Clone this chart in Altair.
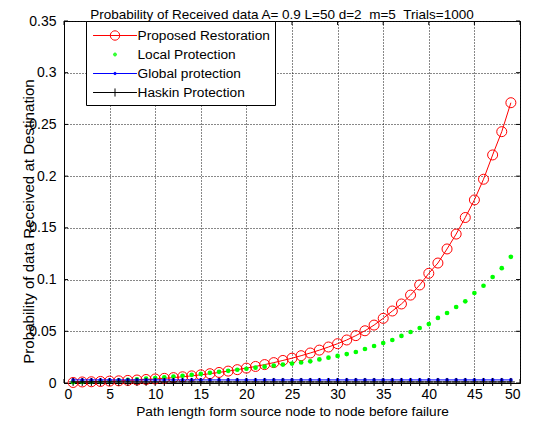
import math
import altair as alt
import pandas as pd

# ---------------- data ----------------
x_vals = list(range(1, 50))

proposed = [0.0005, 0.0010, 0.0012, 0.0015, 0.0018, 0.0021, 0.0025, 0.0029, 0.0034, 0.0039,
            0.0045, 0.0052, 0.0060, 0.0069, 0.0079, 0.0090, 0.0102, 0.0115, 0.0129, 0.0144,
            0.0160, 0.0178, 0.0197, 0.0218, 0.0240, 0.0264, 0.0290, 0.0318, 0.0348, 0.0380,
            0.0416, 0.0458, 0.0505, 0.0560, 0.0625, 0.0696, 0.0764, 0.0850, 0.0948, 0.1060,
            0.1160, 0.1296, 0.1440, 0.1600, 0.1770, 0.1970, 0.2205, 0.2430, 0.2710]

local = [0.0008, 0.0012, 0.0015, 0.0018, 0.0022, 0.0026, 0.0031, 0.0036, 0.0042, 0.0048,
         0.0055, 0.0062, 0.0070, 0.0079, 0.0088, 0.0098, 0.0108, 0.0118, 0.0128, 0.0138,
         0.0148, 0.0158, 0.0168, 0.0178, 0.0188, 0.0198, 0.0210, 0.0228, 0.0245, 0.0262,
         0.0280, 0.0300, 0.0329, 0.0358, 0.0387, 0.0416, 0.0455, 0.0493, 0.0532, 0.0570,
         0.0629, 0.0677, 0.0735, 0.0790, 0.0870, 0.0940, 0.1025, 0.1110, 0.1220]

global_p = [0.0030, 0.0030, 0.0030, 0.0030, 0.0030, 0.0030, 0.0030, 0.0030, 0.0030, 0.0030,
            0.0030, 0.0030, 0.0030, 0.0030, 0.0030, 0.0030, 0.0030, 0.0030, 0.0030, 0.0030,
            0.0030, 0.0030, 0.0030, 0.0030, 0.0030, 0.0030, 0.0030, 0.0030, 0.0030, 0.0030,
            0.0030, 0.0030, 0.0030, 0.0030, 0.0030, 0.0030, 0.0030, 0.0030, 0.0030, 0.0030,
            0.0030, 0.0030, 0.0030, 0.0030, 0.0030, 0.0030, 0.0030, 0.0030, 0.0030]

haskin = [0.0010, 0.0010, 0.0010, 0.0010, 0.0010, 0.0010, 0.0010, 0.0010, 0.0010, 0.0010,
          0.0010, 0.0010, 0.0010, 0.0010, 0.0010, 0.0010, 0.0010, 0.0010, 0.0010, 0.0010,
          0.0010, 0.0010, 0.0010, 0.0010, 0.0010, 0.0010, 0.0010, 0.0010, 0.0010, 0.0010,
          0.0010, 0.0010, 0.0010, 0.0010, 0.0010, 0.0010, 0.0010, 0.0010, 0.0010, 0.0010,
          0.0010, 0.0010, 0.0010, 0.0010, 0.0010, 0.0010, 0.0010, 0.0010, 0.0010]

series_names = ["Proposed Restoration", "Local Protection", "Global protection", "Haskin Protection"]
series_colors = ["#ff0000", "#00ff00", "#0000ff", "#000000"]

x_ticks = [0, 5, 10, 15, 20, 25, 30, 35, 40, 45, 50]
y_ticks = [0, 0.05, 0.1, 0.15, 0.2, 0.25, 0.3, 0.35]

# double spaces kept with no-break spaces so SVG does not collapse them
title_text = "Probability of Received data A= 0.9 L=50 d=2 \u00a0m=5 \u00a0Trials=1000"
x_title = "Path length form source node to node before failure"
y_title = "Probability of data Received at Destination"

# ---------------- build tables ----------------
rows = []
for name, vals in zip(series_names, [proposed, local, global_p, haskin]):
    for xv, yv in zip(x_vals, vals):
        rows.append({"x": xv, "y": yv, "series": name})
df = pd.DataFrame(rows)
xt_df = pd.DataFrame({"v": x_ticks})
yt_df = pd.DataFrame({"v": y_ticks})

W, H = 456, 362
FONT = "Liberation Sans"


def ring(r, n=20):
    pts = [(r * math.cos(2 * math.pi * i / n), r * math.sin(2 * math.pi * i / n)) for i in range(n)]
    s = "M%.3f,%.3f" % pts[0]
    for p in pts[1:]:
        s += "L%.3f,%.3f" % p
    return s + "Z"


L = 2.44  # half-length of legend line (symbol units)
legend_paths = [
    "M%.2f,0L%.2f,0" % (-L, L) + ring(0.52),
    ring(0.17, 8) + ring(0.07, 6),
    "M%.2f,0L%.2f,0" % (-L, L) + ring(0.14, 8) + ring(0.05, 6),
    "M%.2f,0L%.2f,0M0,-0.45L0,0.45" % (-L, L),
]
plus_path = "M-1,0L1,0M0,-1L0,1"

X = alt.X("x:Q", scale=alt.Scale(domain=[0, 50], nice=False, zero=False),
          axis=alt.Axis(values=x_ticks, title=x_title, ticks=False, tickSize=0,
                        labelPadding=4, titlePadding=3, grid=True,
                        titleFontWeight="normal", titleFontSize=13.7))
Y = alt.Y("y:Q", scale=alt.Scale(domain=[0, 0.35], nice=False),
          axis=alt.Axis(values=y_ticks, title=y_title, format=".2~f", ticks=False, tickSize=0,
                        labelPadding=8, grid=True, titleX=-28, titleY=200,
                        titleBaseline="bottom", titleFontWeight="normal", titleFontSize=15.1))

base = alt.Chart(df)


def sel(name):
    return base.transform_filter(alt.datum.series == name)


red_line = sel(series_names[0]).mark_line(color=series_colors[0], strokeWidth=1).encode(x=X, y=Y)
red_pts = sel(series_names[0]).mark_point(shape="circle", filled=False, size=100, strokeWidth=1,
                                          color=series_colors[0], opacity=1).encode(x=X, y=Y)
green_pts = sel(series_names[1]).mark_point(shape="circle", filled=True, size=22, strokeWidth=0,
                                            color=series_colors[1], opacity=1).encode(x=X, y=Y)
blue_line = sel(series_names[2]).mark_line(color=series_colors[2], strokeWidth=1).encode(x=X, y=Y)
blue_pts = sel(series_names[2]).mark_point(shape="circle", filled=True, size=14, strokeWidth=0,
                                           color=series_colors[2], opacity=1).encode(x=X, y=Y)
black_line = sel(series_names[3]).mark_line(color=series_colors[3], strokeWidth=1).encode(x=X, y=Y)
black_pts = sel(series_names[3]).mark_point(shape=plus_path, filled=False, size=64, strokeWidth=1,
                                            color=series_colors[3], opacity=1).encode(x=X, y=Y)

leg = alt.Legend(title=None, orient="none", legendX=22, legendY=0, direction="vertical",
                 fillColor="white", strokeColor="black", padding=5, rowPadding=2,
                 symbolSize=324, symbolStrokeWidth=1, symbolOffset=14.5, labelOffset=13,
                 labelFont=FONT, labelFontSize=13.7, labelColor="black", labelLimit=400)

legend_layer = base.transform_filter("false").mark_point(filled=False, opacity=1, strokeWidth=1).encode(
    x=X, y=Y,
    color=alt.Color("series:N", scale=alt.Scale(domain=series_names, range=series_colors), legend=leg),
    shape=alt.Shape("series:N", scale=alt.Scale(domain=series_names, range=legend_paths), legend=leg),
)

# inward tick marks on all four sides
tk = 4
xs = alt.Scale(domain=[0, 50], nice=False, zero=False)
ys = alt.Scale(domain=[0, 0.35], nice=False)
xt_bot = alt.Chart(xt_df).mark_rule(color="black", strokeWidth=1).encode(
    x=alt.X("v:Q", scale=xs), y=alt.value(H), y2=alt.value(H - tk))
xt_top = alt.Chart(xt_df).mark_rule(color="black", strokeWidth=1).encode(
    x=alt.X("v:Q", scale=xs), y=alt.value(0), y2=alt.value(tk))
yt_left = alt.Chart(yt_df).mark_rule(color="black", strokeWidth=1).encode(
    y=alt.Y("v:Q", scale=ys), x=alt.value(0), x2=alt.value(tk))
yt_right = alt.Chart(yt_df).mark_rule(color="black", strokeWidth=1).encode(
    y=alt.Y("v:Q", scale=ys), x=alt.value(W - tk), x2=alt.value(W))

chart = alt.layer(
    xt_bot, xt_top, yt_left, yt_right,
    red_line, red_pts, green_pts, blue_line, blue_pts, black_line, black_pts, legend_layer
).properties(
    width=W, height=H,
    background="white",
    autosize=alt.AutoSizeParams(type="none"),
    padding={"left": 56, "top": 13, "right": 10, "bottom": 40},
    title=alt.Title(title_text, font=FONT, fontSize=13.5, fontWeight="normal", color="black",
                    anchor="middle", offset=4, dx=-10, dy=11, frame="group"),
).configure_view(
    stroke="black", strokeWidth=1
).configure_axis(
    labelFont=FONT, labelFontSize=14, labelColor="black",
    titleFont=FONT, titleFontSize=13.7, titleFontWeight="normal", titleColor="black",
    domainColor="black", domainWidth=1,
    gridColor="#111111", gridDash=[1, 2], gridWidth=1, gridOpacity=1,
)

chart.save("out.html", embed_options={"renderer": "svg", "actions": False})
